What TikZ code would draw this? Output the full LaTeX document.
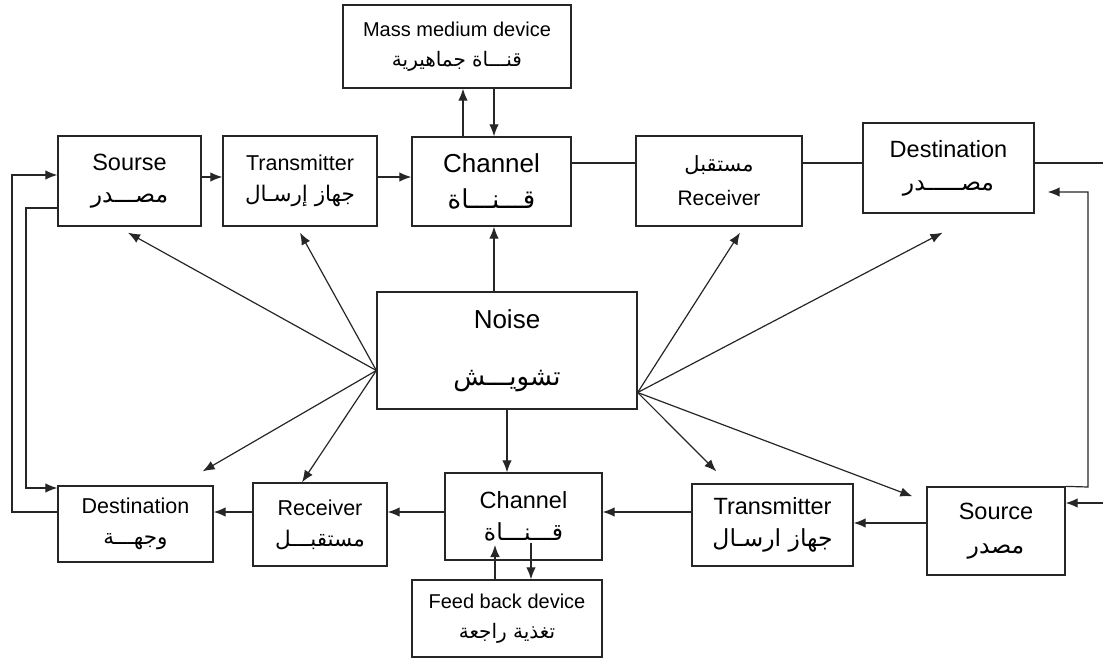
\documentclass[tikz,border=0pt]{standalone}
\usepackage{fontspec}
\setmainfont{Liberation Sans}
\newfontfamily\arabicfont[Script=Arabic]{DejaVu Sans}
\TeXXeTstate=1
\usetikzlibrary{arrows.meta,positioning,calc}
\newcommand{\artxt}[1]{{\arabicfont\beginR #1\endR}}

\begin{document}
\begin{tikzpicture}[x=1pt,y=-1pt,
  >={Latex[length=12pt,width=9.5pt]},
  every node/.style={align=center},
  box/.style={draw=black!85,line width=1.3pt,inner sep=2pt,
    font=\fontsize{23.5}{32}\selectfont},
  flow/.style={->,draw=black!85,line width=1.2pt},
  link/.style={draw=black!85,line width=1.2pt}]
  \useasboundingbox (0,0) rectangle (1103,659);

  % upper chain
  \node[box,minimum width=143pt,minimum height=90pt] (src1) at (129.5,181)
    {Sourse\\\artxt{مصـــدر}};
  \node[box,minimum width=154pt,minimum height=90pt,
    font=\fontsize{21.5}{31}\selectfont] (tx1) at (300,181)
    {Transmitter\\\artxt{جهاز إرسـال}};
  \node[box,minimum width=159pt,minimum height=89pt,
    font=\fontsize{26}{36}\selectfont] (ch1) at (491.5,181.5)
    {Channel\\\artxt{قـــنـــاة}};
  \node[box,minimum width=166pt,minimum height=90pt,
    font=\fontsize{21}{34}\selectfont] (rx1) at (719,181)
    {\artxt{مستقبل}\\Receiver};
  \node[box,minimum width=171pt,minimum height=90pt,
    font=\fontsize{23.5}{33}\selectfont] (dst1) at (948.5,168)
    {Destination\\\artxt{مصـــــدر}};
  \node[box,minimum width=228pt,minimum height=83pt,
    font=\fontsize{20}{30}\selectfont] (mass) at (457,46.5)
    {Mass medium device\\\artxt{قنـــاة جماهيرية}};
  \node[box,minimum width=260pt,minimum height=117pt,
    font=\fontsize{26}{57}\selectfont] (noise) at (507,350.5)
    {Noise\\\artxt{تشويـــش}};

  % lower chain
  \node[box,minimum width=155pt,minimum height=76pt,
    font=\fontsize{21.5}{31}\selectfont] (dst2) at (135.5,524)
    {Destination\\\artxt{وجهـــة}};
  \node[box,minimum width=134pt,minimum height=83pt,
    font=\fontsize{21.5}{31}\selectfont] (rx2) at (320,524.5)
    {Receiver\\\artxt{مستقبـــل}};
  \node[box,minimum width=157pt,minimum height=87pt] (ch2) at (523.5,516.5)
    {Channel\\\artxt{قـــنـــاة}};
  \node[box,minimum width=190pt,minimum height=77pt,
    font=\fontsize{20}{30}\selectfont] (fb) at (507,618.5)
    {Feed back device\\\artxt{تغذية راجعة}};
  \node[box,minimum width=161pt,minimum height=82pt] (tx2) at (772.5,525)
    {Transmitter\\\artxt{جهاز ارسـال}};
  \node[box,minimum width=138pt,minimum height=88pt,
    font=\fontsize{23.5}{34}\selectfont] (src2) at (996,531)
    {Source\\\artxt{مصدر}};

  % helper levels and lanes
  \coordinate (yt1) at (0,177);
  \coordinate (yt2) at (0,163);
  \coordinate (yb1) at (0,523);
  \coordinate (yb2) at (0,512);
  \coordinate (xup) at (463,0);
  \coordinate (xdn) at (494,0);
  \coordinate (lA) at (12,175);
  \coordinate (lB) at (12,512);
  \coordinate (lC) at (26,208);
  \coordinate (lD) at (26,488);
  \coordinate (rA) at (1088,192);
  \coordinate (rB) at (1088,487);
  \coordinate (eR1) at (1103,163);
  \coordinate (eR2) at (1103,503);
  \coordinate (fu) at (495,545);
  \coordinate (fd) at (531,543);
  \coordinate (nL) at ([yshift=-20pt]noise.west);
  \coordinate (nR) at ([yshift=-42pt]noise.east);

  \draw[flow] (src1.east |- yt1) -- (tx1.west |- yt1);
  \draw[flow] (tx1.east |- yt1) -- (ch1.west |- yt1);
  \draw[link] (ch1.east |- yt2) -- (rx1.west |- yt2);
  \draw[link] (rx1.east |- yt2) -- (dst1.west |- yt2);
  \draw[link] (dst1.east |- yt2) -- (eR1);
  \draw[flow] (ch1.north -| xup) -- (mass.south -| xup);
  \draw[flow] (mass.south -| xdn) -- (ch1.north -| xdn);
  \draw[flow] (noise.north -| xdn) -- (ch1.south -| xdn);

  \draw[flow] (src2.west |- yb1) -- (tx2.east |- yb1);
  \draw[flow] (tx2.west |- yb2) -- (ch2.east |- yb2);
  \draw[flow] (ch2.west |- yb2) -- (rx2.east |- yb2);
  \draw[flow] (rx2.west |- yb2) -- (dst2.east |- yb2);
  \draw[flow] (noise.south) -- (noise.south |- ch2.north);
  \draw[flow] (fb.north -| fu) -- (fu);
  \draw[flow] (fd) -- (fb.north -| fd);

  % feedback lanes
  \draw[flow] (dst2.west |- lB) -- (lB) -- (lA) -- (src1.west |- lA);
  \draw[flow] (src1.west |- lC) -- (lC) -- (lD) -- (dst2.west |- lD);
  \draw[flow,shorten >=13pt] (src2.north east) -- (rB) -- (rA)
    -- (dst1.east |- rA);
  \draw[flow] (eR2) -- (src2.east |- eR2);

  % noise spreads
  \draw[flow] (nL) -- ([xshift=-1.5pt,yshift=-6pt]src1.south);
  \draw[flow] (nL) -- ([yshift=-6pt]tx1.south);
  \draw[flow] (nL) -- ([xshift=-11pt,yshift=14pt]dst2.north east);
  \draw[flow] (nL) -- ([xshift=-18pt]rx2.north);
  \draw[flow] (nR) -- ([xshift=21pt,yshift=-6pt]rx1.south);
  \draw[flow] (nR) -- ([xshift=-6pt,yshift=-19pt]dst1.south);
  \draw[flow] (nR) -- ([xshift=25pt,yshift=12pt]tx2.north west);
  \draw[flow] (nR) -- ([xshift=-14pt,yshift=-10pt]src2.north west);
\end{tikzpicture}
\end{document}
